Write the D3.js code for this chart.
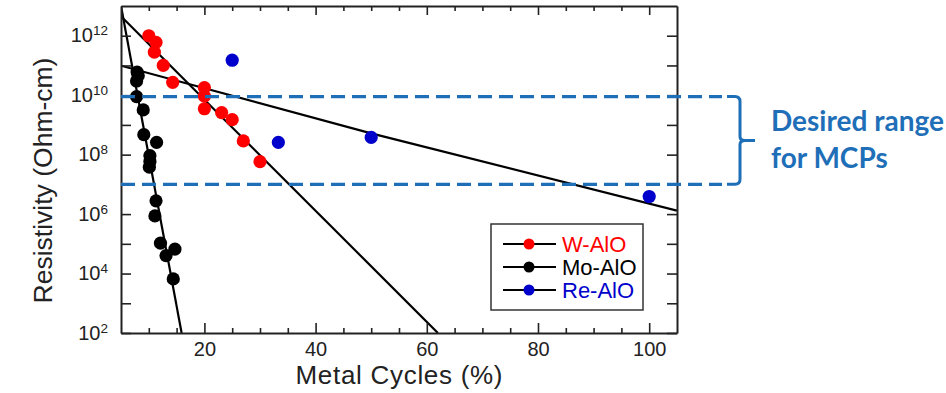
<!DOCTYPE html>
<html>
<head>
<meta charset="utf-8">
<script src="https://cdn.jsdelivr.net/npm/d3@7"></script>
<style>
  body { margin: 0; background: #fff; }
  svg { display: block; }
</style>
</head>
<body>
<div id="chart"></div>
<script>
// Data
const wCycles = [10, 11.3, 11, 12.6, 14.3, 20, 20, 20, 23.1, 25, 27, 30];
const wResistivity = [1.0e12, 6.0e11, 2.8e11, 1.0e11, 2.7e10, 1.8e10, 9.3e9, 3.5e9, 2.6e9, 1.5e9, 2.9e8, 5.8e7];

const moCycles = [7.9, 8.1, 7.8, 7.8, 9.0, 9.1, 11.4, 10.2, 10.2, 10.1, 11.3, 11.1, 12.1, 13.1, 14.7, 14.4];
const moResistivity = [6.0e10, 4.5e10, 3.0e10, 8.9e9, 3.2e9, 4.7e8, 2.6e8, 9.3e7, 5.9e7, 3.8e7, 2.8e6, 8.7e5, 1.05e5, 4.0e4, 6.6e4, 6.6e3];

const reCycles = [25, 33.3, 50, 100];
const reResistivity = [1.5e11, 2.6e8, 3.8e8, 3.9e6];

// fit lines
const wFitCycles = [5, 62];
const wFitResistivity = [4.5e12, 1e2];
const moFitCycles = [5, 15.9];
const moFitResistivity = [1e13, 1e2];
const reFitCycles = [5, 50, 105];
const reFitResistivity = [9.8e10, 5.2e8, 1.3e6];

// desired range for MCPs
const desiredRange = [1e7, 9e9];

// ticks
const xMajorTicks = [20, 40, 60, 80, 100];
const xMinorTicks = [10, 15, 25, 30, 35, 45, 50, 55, 65, 70, 75, 85, 90, 95];
const yTicks = [1e2, 1e3, 1e4, 1e5, 1e6, 1e7, 1e8, 1e9, 1e10, 1e11, 1e12];

const seriesNames = ['W-AlO', 'Mo-AlO', 'Re-AlO'];

function draw() {
  // Dimensions
  const dimensions = {
    width: 946,
    height: 393,
    left: 121,
    top: 6,
    right: 677,
    bottom: 333,
  };

  const font = '"Liberation Sans", Arial, sans-serif';
  const colors = ['#ff0000', '#000000', '#0000cc'];
  const annoBlue = '#1f6fb8';

  const svg = d3.select('#chart')
    .append('svg')
    .attr('width', dimensions.width)
    .attr('height', dimensions.height)
    .style('background', '#fff');

  // Scales
  const xScale = d3.scaleLinear()
    .domain([5, 105])
    .range([dimensions.left, dimensions.right]);

  const yScale = d3.scaleLog()
    .domain([1e2, 1e13])
    .range([dimensions.bottom, dimensions.top]);

  svg.append('clipPath')
    .attr('id', 'plot-clip')
    .append('rect')
    .attr('x', dimensions.left)
    .attr('y', dimensions.top)
    .attr('width', dimensions.right - dimensions.left)
    .attr('height', dimensions.bottom - dimensions.top);

  const lineGenerator = d3.line()
    .x(d => xScale(d[0]))
    .y(d => yScale(d[1]));

  // fit lines
  const fits = [
    d3.zip(wFitCycles, wFitResistivity),
    d3.zip(moFitCycles, moFitResistivity),
    d3.zip(reFitCycles, reFitResistivity),
  ];

  const plot = svg.append('g').attr('clip-path', 'url(#plot-clip)');

  fits.forEach(f => {
    plot.append('path')
      .datum(f)
      .attr('d', lineGenerator)
      .attr('fill', 'none')
      .attr('stroke', '#000')
      .attr('stroke-width', 2.2);
  });

  // points
  const series = [
    d3.zip(wCycles, wResistivity),
    d3.zip(moCycles, moResistivity),
    d3.zip(reCycles, reResistivity),
  ];

  series.forEach((s, i) => {
    plot.append('g')
      .selectAll('circle')
      .data(s)
      .join('circle')
      .attr('cx', d => xScale(d[0]))
      .attr('cy', d => yScale(d[1]))
      .attr('r', 6.6)
      .attr('fill', colors[i]);
  });

  // axes
  function styleAxis(g) {
    g.select('.domain').attr('stroke', '#222').attr('stroke-width', 2);
    g.selectAll('.tick line').attr('stroke', '#222').attr('stroke-width', 1.6);
    g.selectAll('text')
      .attr('font-family', font)
      .attr('fill', '#222');
  }

  const xAxis = d3.axisBottom(xScale)
    .tickValues(xMajorTicks)
    .tickSizeInner(-10)
    .tickSizeOuter(0)
    .tickPadding(9);

  svg.append('g')
    .attr('transform', `translate(0,${dimensions.bottom})`)
    .call(xAxis)
    .call(styleAxis)
    .selectAll('text')
    .attr('font-size', 20);

  svg.append('g')
    .attr('transform', `translate(0,${dimensions.bottom})`)
    .call(d3.axisBottom(xScale).tickValues(xMinorTicks).tickSizeInner(-5).tickFormat(''))
    .call(styleAxis)
    .call(g => g.select('.domain').remove());

  svg.append('g')
    .attr('transform', `translate(0,${dimensions.top})`)
    .call(d3.axisTop(xScale).tickValues(xMajorTicks).tickSizeInner(-9).tickSizeOuter(0).tickFormat(''))
    .call(styleAxis);

  svg.append('g')
    .attr('transform', `translate(0,${dimensions.top})`)
    .call(d3.axisTop(xScale).tickValues(xMinorTicks).tickSizeInner(-5).tickFormat(''))
    .call(styleAxis)
    .call(g => g.select('.domain').remove());

  const yAxis = d3.axisLeft(yScale)
    .tickValues(yTicks)
    .tickSizeInner(-10)
    .tickSizeOuter(0)
    .tickPadding(13);

  const yAxisGroup = svg.append('g')
    .attr('transform', `translate(${dimensions.left},0)`)
    .call(yAxis)
    .call(styleAxis);

  yAxisGroup.selectAll('.tick text')
    .attr('font-size', 20)
    .attr('dy', '0.3em')
    .each(function(d) {
      const e = Math.round(Math.log10(d));
      const t = d3.select(this).text(null);
      if (e % 2 !== 0) return;
      t.append('tspan').text('10');
      t.append('tspan')
        .attr('dy', '-0.5em')
        .attr('font-size', 13.5)
        .text(e);
    });

  svg.append('g')
    .attr('transform', `translate(${dimensions.right},0)`)
    .call(d3.axisRight(yScale).tickValues(yTicks).tickSizeInner(-10).tickSizeOuter(0).tickFormat(''))
    .call(styleAxis);

  // axis titles
  svg.append('text')
    .attr('transform', `translate(52,${(dimensions.top + dimensions.bottom) / 2 + 11}) rotate(-90)`)
    .attr('text-anchor', 'middle')
    .attr('font-family', font)
    .attr('font-size', 26.5)
    .attr('fill', '#222')
    .text('Resistivity (Ohm-cm)');

  svg.append('text')
    .attr('x', 399)
    .attr('y', 384)
    .attr('text-anchor', 'middle')
    .attr('font-family', font)
    .attr('font-size', 26)
    .attr('fill', '#222')
    .attr('textLength', 207)
    .attr('lengthAdjust', 'spacing')
    .text('Metal Cycles (%)');

  // legend
  const legend = svg.append('g').attr('transform', 'translate(491,224)');

  legend.append('rect')
    .attr('width', 152)
    .attr('height', 86)
    .attr('fill', '#fff')
    .attr('stroke', '#333')
    .attr('stroke-width', 1.5);

  seriesNames.forEach((name, i) => {
    const row = legend.append('g').attr('transform', `translate(0,${20 + i * 23})`);
    row.append('line')
      .attr('x1', 12)
      .attr('x2', 65)
      .attr('stroke', '#000')
      .attr('stroke-width', 2);
    row.append('circle')
      .attr('cx', 38)
      .attr('r', 5.5)
      .attr('fill', colors[i]);
    row.append('text')
      .attr('x', 71)
      .attr('dy', '0.36em')
      .attr('font-family', font)
      .attr('font-size', 22)
      .attr('fill', colors[i])
      .text(name);
  });

  // desired range annotation
  const bracketX = 740;
  const dashEnd = 722;
  const yTop = yScale(desiredRange[1]);
  const yBot = yScale(desiredRange[0]);
  const yMid = (yTop + yBot) / 2;

  desiredRange.forEach(v => {
    svg.append('line')
      .attr('x1', xScale(5))
      .attr('x2', dashEnd)
      .attr('y1', yScale(v))
      .attr('y2', yScale(v))
      .attr('stroke', annoBlue)
      .attr('stroke-width', 3.2)
      .attr('stroke-dasharray', '14 7');
  });

  svg.append('path')
    .attr('d', `M${bracketX - 13},${yTop} H${bracketX - 5} Q${bracketX},${yTop} ${bracketX},${yTop + 5}` +
      ` V${yMid - 4} Q${bracketX},${yMid} ${bracketX + 5},${yMid} H${bracketX + 15}` +
      ` M${bracketX + 5},${yMid} Q${bracketX},${yMid} ${bracketX},${yMid + 4}` +
      ` V${yBot - 5} Q${bracketX},${yBot} ${bracketX - 5},${yBot} H${bracketX - 13}`)
    .attr('fill', 'none')
    .attr('stroke', annoBlue)
    .attr('stroke-width', 3);

  const note = svg.append('text')
    .attr('font-family', 'Lato, "Open Sans", sans-serif')
    .attr('font-weight', 'bold')
    .attr('font-size', 28)
    .attr('fill', annoBlue);

  note.append('tspan').attr('x', 771).attr('y', 131).text('Desired range');
  note.append('tspan').attr('x', 771).attr('y', 168).text('for MCPs');
}

draw();
</script>
</body>
</html>
